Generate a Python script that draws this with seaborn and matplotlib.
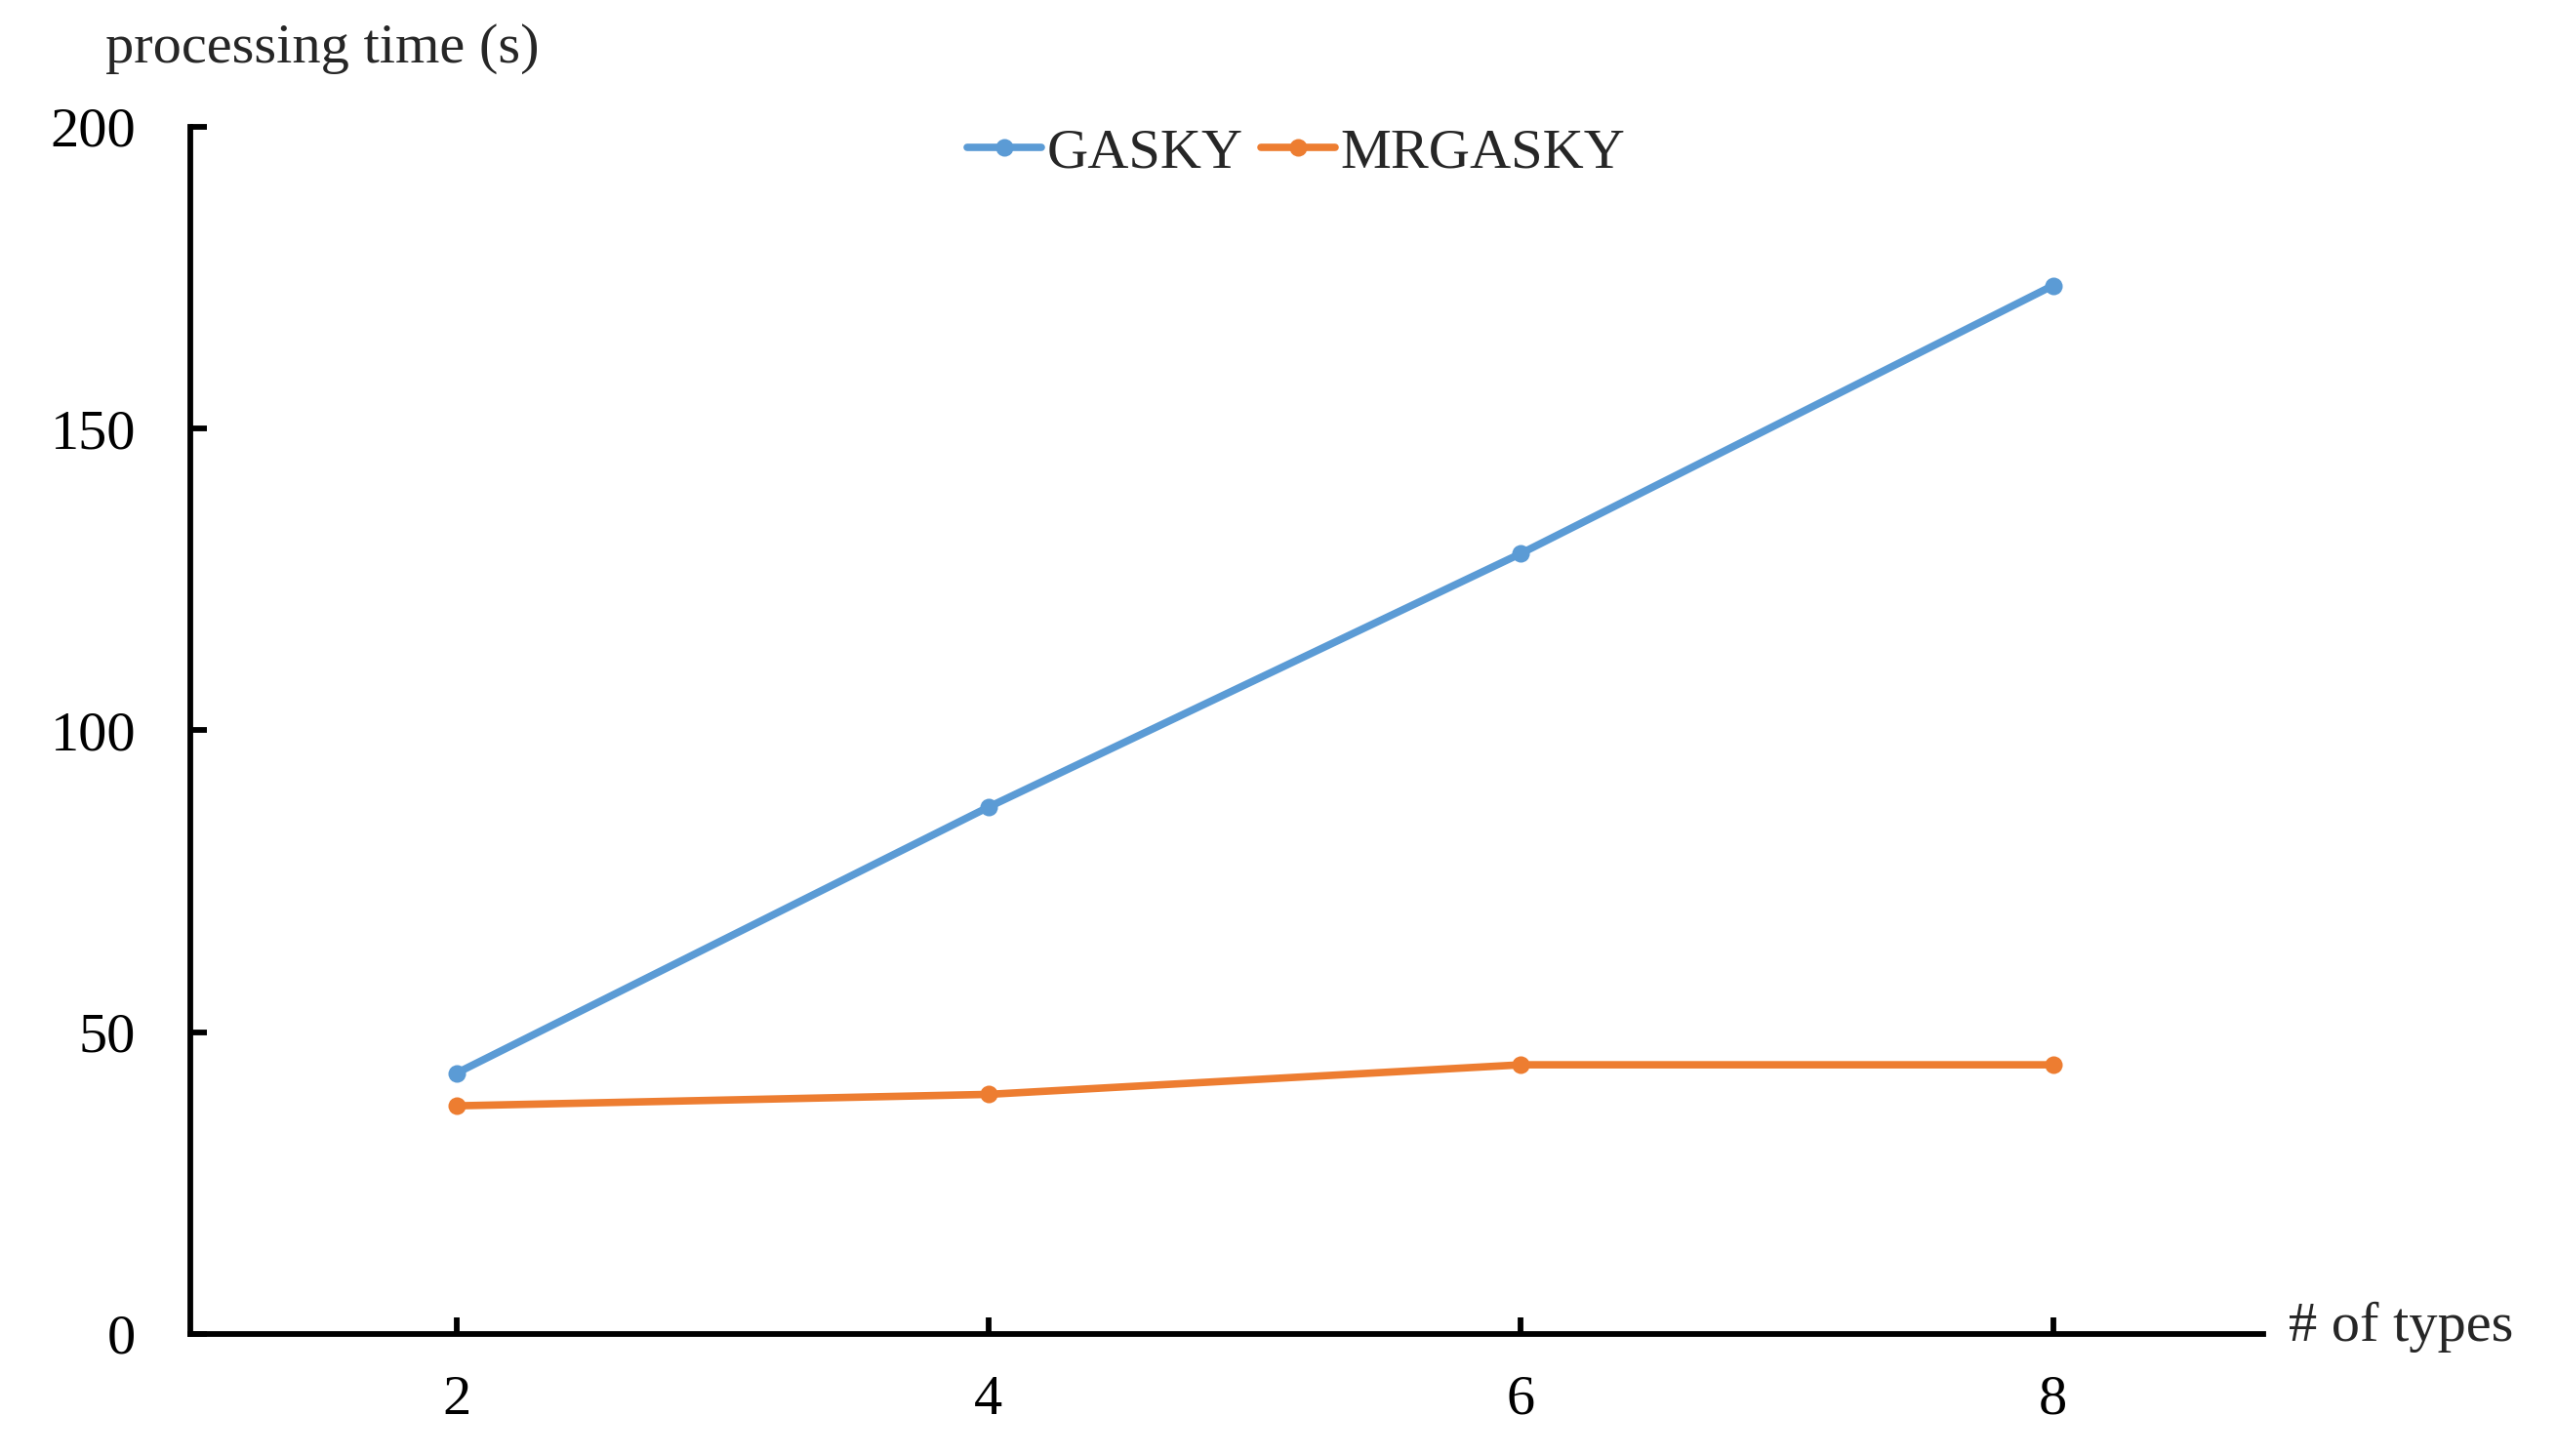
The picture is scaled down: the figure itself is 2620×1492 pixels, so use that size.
import pandas as pd
import seaborn as sns
import matplotlib.pyplot as plt

sns.set_style('white')
plt.rcParams['font.family'] = ['Liberation Serif', 'DejaVu Serif']

types = [2, 4, 6, 8]
gasky = [43.2, 87.3, 129.3, 173.7]
mrgasky = [37.8, 39.7, 44.6, 44.6]
series = ['GASKY', 'MRGASKY']
colors = ['#5B9BD5', '#ED7D31']

df = pd.concat([
    pd.DataFrame({'types': types, 'time': gasky, 'method': series[0]}),
    pd.DataFrame({'types': types, 'time': mrgasky, 'method': series[1]}),
])

fig = plt.figure(figsize=(26.2, 14.92), dpi=100)
ax = fig.add_axes([0.0744, 0.0838, 0.8107, 0.8291])

sns.lineplot(data=df, x='types', y='time', hue='method', hue_order=series,
             palette=colors, marker='o', markersize=13, markeredgewidth=0,
             linewidth=5.5, ax=ax)

ax.set_xlim(1, 8.79)
ax.set_ylim(0, 200)
ax.set_xticks(types)
ax.set_yticks([0, 50, 100, 150, 200])
ax.set_xlabel('')
ax.set_ylabel('')

sns.despine(ax=ax)
for s in ['left', 'bottom']:
    ax.spines[s].set_linewidth(4.2)
    ax.spines[s].set_color('black')
ax.tick_params(axis='both', direction='in', length=12, width=4.2,
               labelsize=42, colors='black')
ax.tick_params(axis='y', pad=40, left=True)
ax.tick_params(axis='x', pad=30, bottom=True)

ax.legend(loc='center', bbox_to_anchor=(0.507, 1 - 157 / 1492),
          bbox_transform=fig.transFigure, ncol=2, frameon=False,
          fontsize=42, handlelength=1.3, handletextpad=0.1,
          columnspacing=0.3)

fig.text(108 / 2620, 1 - 50 / 1492, 'processing time (s)', fontsize=42,
         ha='left', va='center')
fig.text(2345 / 2620, 1 - 1360 / 1492, '# of types', fontsize=42,
         ha='left', va='center')

fig.savefig('out.png', dpi=100, facecolor='white')
